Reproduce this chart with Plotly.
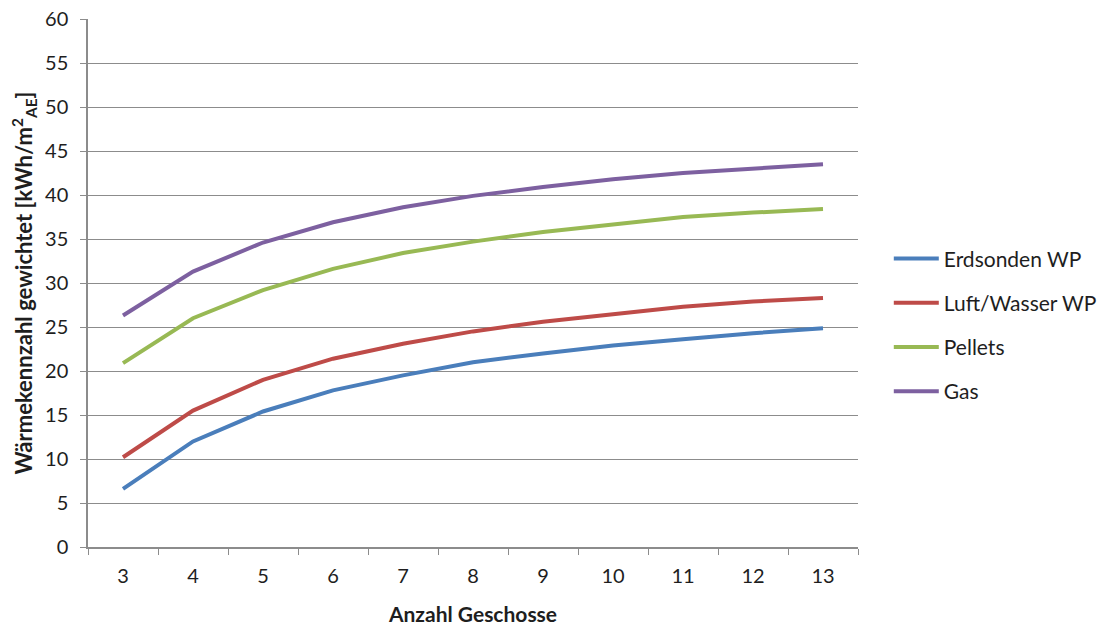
import plotly.graph_objects as go

# Number of storeys
geschosse = ["3", "4", "5", "6", "7", "8", "9", "10", "11", "12", "13"]

# Weighted heat index per system [kWh/m²_AE]
erdsonden_wp = [6.6, 12.0, 15.4, 17.8, 19.5, 21.0, 22.0, 22.9, 23.6, 24.3, 24.85]
luft_wasser_wp = [10.2, 15.5, 19.0, 21.4, 23.1, 24.5, 25.6, 26.5, 27.3, 27.9, 28.3]
pellets = [20.9, 26.0, 29.2, 31.6, 33.4, 34.7, 35.8, 36.7, 37.5, 38.0, 38.4]
gas = [26.3, 31.3, 34.6, 36.9, 38.6, 39.9, 40.9, 41.8, 42.5, 43.0, 43.5]

series = [
    ("Erdsonden WP", erdsonden_wp, "#4A7EBB"),
    ("Luft/Wasser WP", luft_wasser_wp, "#BE4B48"),
    ("Pellets", pellets, "#98B954"),
    ("Gas", gas, "#7D60A0"),
]

font_family = "Lato, 'Open Sans', sans-serif"
grid_col = "#8C8C8C"
txt_col = "#1E1E1E"

fig = go.Figure()
for i, (name, vals, col) in enumerate(series):
    fig.add_trace(go.Scatter(
        x=geschosse, y=vals, name=name, mode="lines",
        line=dict(color=col, width=4),
        legendgroup=f"g{i}",
    ))

fig.update_layout(
    width=1107, height=628,
    margin=dict(l=88, r=249, t=19, b=81, autoexpand=False),
    paper_bgcolor="white", plot_bgcolor="white",
    font=dict(family=font_family, size=20, color=txt_col),
    showlegend=True,
    legend=dict(
        x=1.04, y=0.42, xanchor="left", yanchor="middle",
        traceorder="grouped", tracegroupgap=14,
        font=dict(size=21, color=txt_col),
        itemwidth=45,
    ),
    xaxis=dict(
        type="category",
        range=[-0.5, 10.5],
        tickson="boundaries",
        ticks="outside", ticklen=6, tickcolor=grid_col,
        showline=True, linecolor=grid_col, linewidth=1.5,
        showgrid=False,
        tickfont=dict(size=20),
        ticklabelstandoff=10,
        automargin=False,
        title=dict(text="<b>Anzahl Geschosse</b>", font=dict(size=21), standoff=22),
    ),
    yaxis=dict(
        range=[0, 60], dtick=5, tick0=0,
        ticks="outside", ticklen=6, tickcolor=grid_col,
        showline=True, linecolor=grid_col, linewidth=1.5,
        showgrid=True, gridcolor=grid_col, gridwidth=1,
        zeroline=False,
        tickfont=dict(size=20),
        ticklabelstandoff=8,
        automargin=False,
        title=dict(
            text="<b>Wärmekennzahl gewichtet [kWh/m<sup>2</sup><sub>AE</sub>]</b>",
            font=dict(size=22), standoff=6,
        ),
    ),
)

fig.write_html("out.html")
